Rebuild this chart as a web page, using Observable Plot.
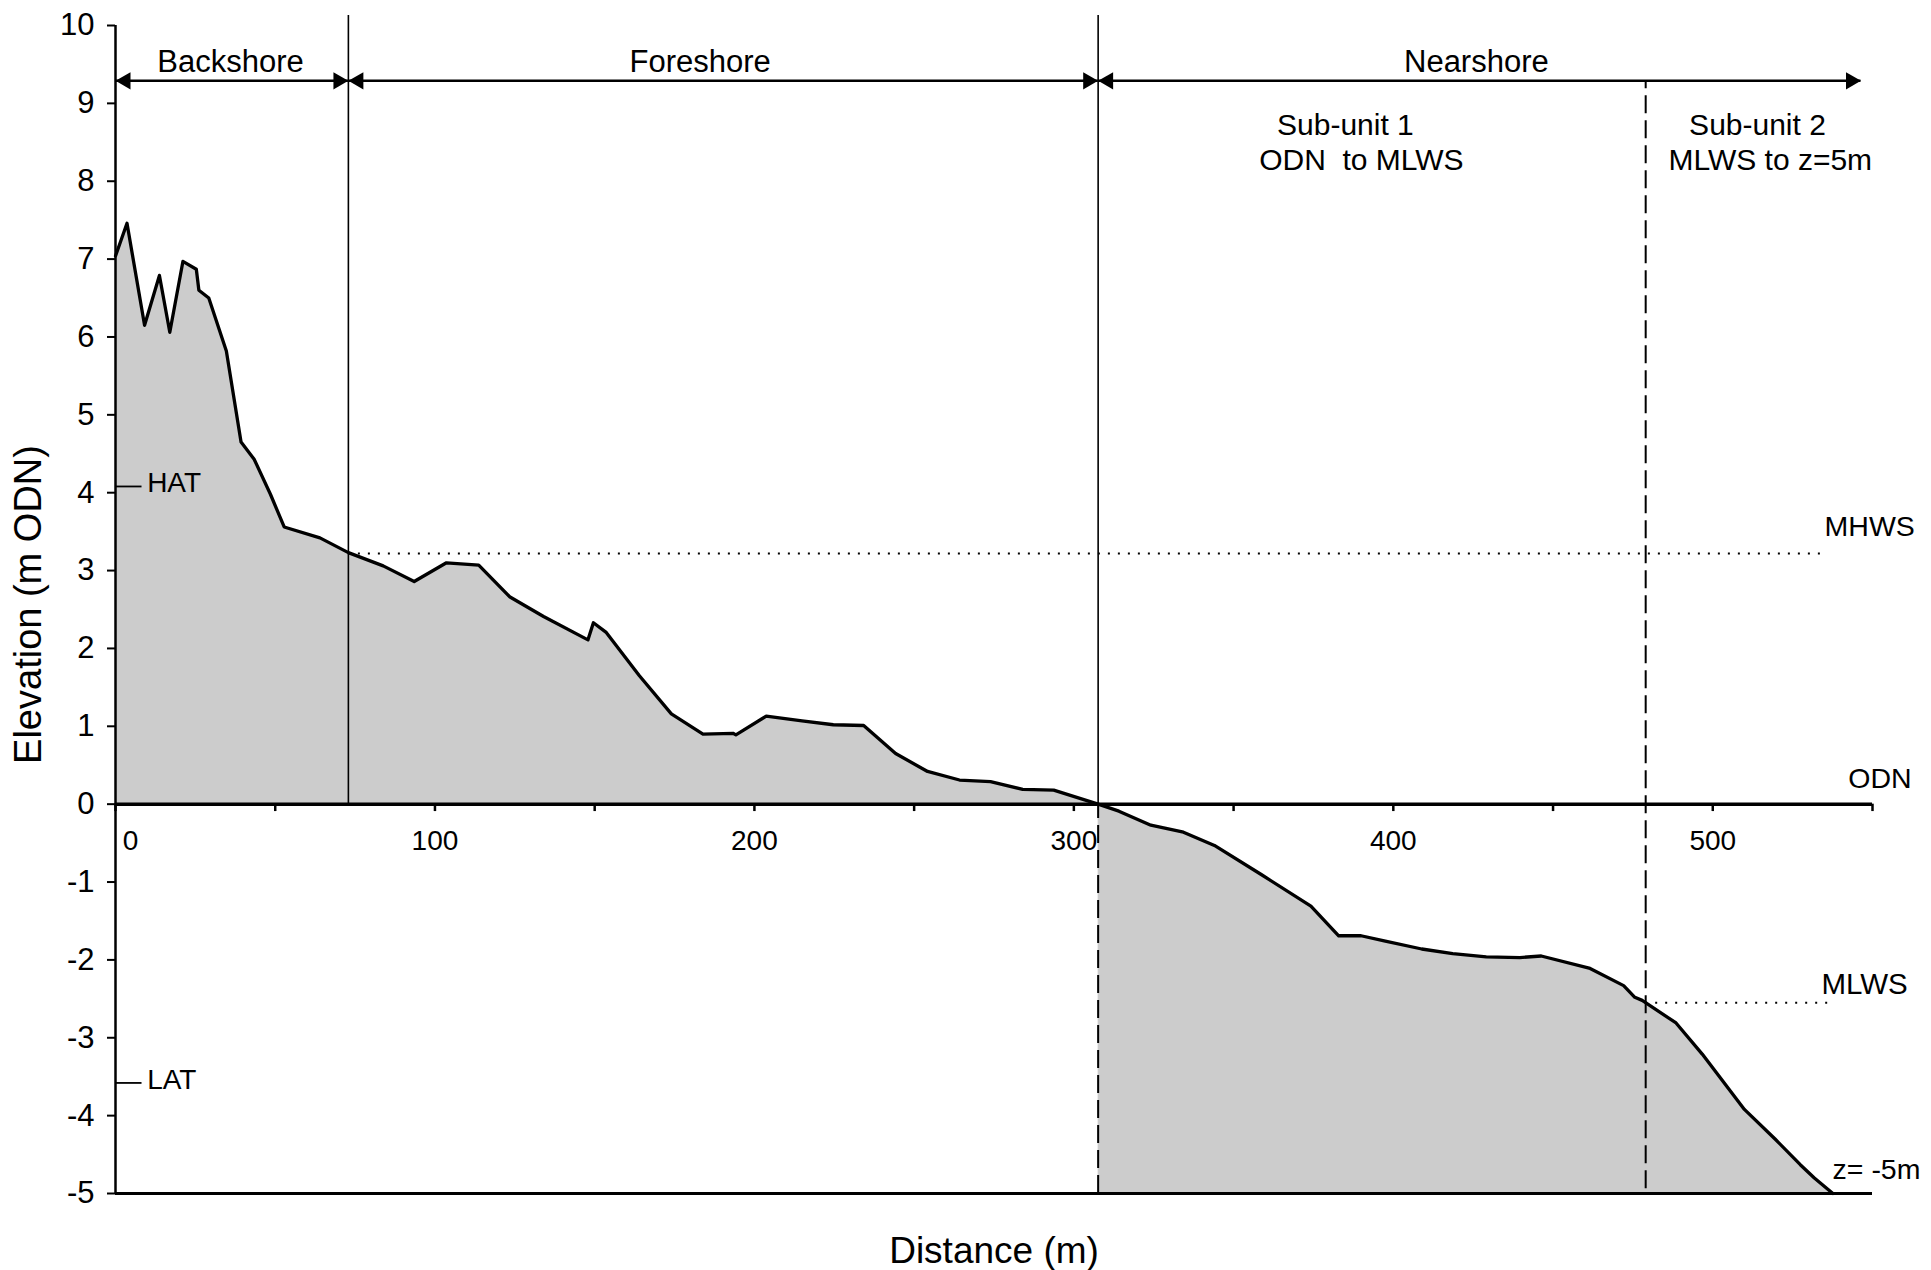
<!DOCTYPE html>
<html>
<head>
<meta charset="utf-8">
<script src="https://cdn.jsdelivr.net/npm/d3@7"></script>
<script src="https://cdn.jsdelivr.net/npm/@observablehq/plot@0.6"></script>
<style>
  body { margin: 0; background: #fff; }
  svg text { white-space: pre; }
</style>
</head>
<body>
<div id="chart"></div>
<script>
// ---- Data ----
const distance = [0, 3.6, 9.1, 13.75, 17, 21.1, 25.3, 26.1, 29.2, 34.7, 39.3, 43.4, 48.5, 52.8, 64, 72.9,
  83.8, 93.5, 103.6, 113.7, 123.5, 134, 147.9, 149.6, 153.5, 164, 174, 183.9, 193.3, 194.2, 203.7, 214.9,
  224.7, 234.2, 244.2, 254.2, 264.2, 273.9, 284, 293.7, 307.6, 314.1, 324.1, 334.3, 344, 358.9, 374.2,
  382.9, 389.9, 397.5, 408.9, 418.6, 429.1, 439.6, 446.3, 461.6, 472.1, 475.6, 477.9, 488.5, 496.7, 509.9,
  519.5, 527.4, 531.8, 537.6];
const elevation = [7.04, 7.46, 6.15, 6.79, 6.06, 6.97, 6.87, 6.60, 6.50, 5.82, 4.65, 4.43, 3.98, 3.56, 3.42, 3.23,
  3.06, 2.86, 3.10, 3.07, 2.66, 2.41, 2.11, 2.33, 2.21, 1.65, 1.16, 0.90, 0.91, 0.89, 1.13, 1.07,
  1.02, 1.01, 0.65, 0.42, 0.31, 0.29, 0.19, 0.18, 0, -0.09, -0.27, -0.36, -0.53, -0.91, -1.31,
  -1.69, -1.69, -1.76, -1.86, -1.92, -1.96, -1.97, -1.95, -2.11, -2.33, -2.48, -2.52, -2.81, -3.21, -3.92,
  -4.30, -4.63, -4.80, -5.0];

const yTicks = [-5, -4, -3, -2, -1, 0, 1, 2, 3, 4, 5, 6, 7, 8, 9, 10];
const xTicks = [0, 50, 100, 150, 200, 250, 300, 350, 400, 450, 500, 550];
const xTickLabels = [100, 200, 300, 400, 500];
const xZeroLabel = [0];

const zoneBounds = [0, 72.9, 307.6, 546.4];
const zoneNames = ["Backshore", "Foreshore", "Nearshore"];
const zoneLabelX = [36, 183, 426];
const arrowY = 9.29;
const boundaryTop = 10.13;

const subUnitBoundary = 479;
const subUnitText = ["Sub-unit 1", "ODN  to MLWS", "Sub-unit 2", "MLWS to z=5m"];
const subUnitX = [385, 390, 514, 518];
const subUnitY = [8.59, 8.15, 8.59, 8.15];

const tideNames = ["HAT", "LAT"];
const tideValues = [4.08, -3.58];
const mhws = 3.22;
const mhwsEnd = 534;
const mlws = -2.55;
const mlwsEnd = 538;

// ---- Derived tables ----
const profile = distance.map((d, i) => ({x: d, y: elevation[i]}));
const foreshoreProfile = profile.filter(d => d.x <= zoneBounds[2]);
const nearshoreProfile = profile.filter(d => d.x >= zoneBounds[2]);
const zones = zoneNames.map((name, i) => ({name, x1: zoneBounds[i], x2: zoneBounds[i + 1], cx: zoneLabelX[i]}));
const subUnits = subUnitText.map((t, i) => ({t, x: subUnitX[i], y: subUnitY[i]}));
const tides = tideNames.map((n, i) => ({n, y: tideValues[i]}));

const FONT = "Liberation Sans, Arial, Helvetica, sans-serif";

const chart = Plot.plot({
  width: 1931,
  height: 1270,
  marginLeft: 115,
  marginRight: 59,
  marginTop: 25,
  marginBottom: 77,
  style: {fontFamily: FONT, background: "white", color: "black"},
  x: {domain: [0, 550], axis: null},
  y: {domain: [-5, 10], axis: null},
  marks: [
    // filled profile
    Plot.areaY(foreshoreProfile, {x: "x", y1: 0, y2: "y", fill: "#cccccc"}),
    Plot.areaY(nearshoreProfile, {x: "x", y1: -5, y2: "y", fill: "#cccccc"}),

    // tidal levels (dotted)
    Plot.ruleY([mhws], {x1: zoneBounds[1], x2: mhwsEnd, stroke: "black", strokeWidth: 2, strokeDasharray: "2,8"}),
    Plot.ruleY([mlws], {x1: subUnitBoundary, x2: mlwsEnd, stroke: "black", strokeWidth: 2, strokeDasharray: "2,8"}),

    // zone boundaries
    Plot.ruleX([zoneBounds[1], zoneBounds[2]], {y1: 0, y2: boundaryTop, stroke: "black", strokeWidth: 1.6}),
    Plot.ruleX([zoneBounds[2]], {y1: -5, y2: 0, stroke: "black", strokeWidth: 2, strokeDasharray: "18,7"}),
    Plot.ruleX([subUnitBoundary], {y1: -4.94, y2: arrowY, stroke: "black", strokeWidth: 2, strokeDasharray: "18,7"}),

    // profile line
    Plot.line(profile, {x: "x", y: "y", stroke: "black", strokeWidth: 3.3, strokeLinejoin: "round"}),

    // axis lines
    Plot.ruleX([0], {y1: -5, y2: 10, stroke: "black", strokeWidth: 2.5}),
    Plot.ruleY([0], {x1: 0, x2: 550, stroke: "black", strokeWidth: 3.5}),
    Plot.ruleY([-5], {x1: 0, x2: 550, stroke: "black", strokeWidth: 3}),
    Plot.ruleX(xTicks, {y1: 0, y2: -0.095, stroke: "black", strokeWidth: 2.5}),

    // y axis ticks + labels
    Plot.axisY(yTicks, {tickSize: 8, tickPadding: 13, fontSize: 31, strokeWidth: 2, tickFormat: d => String(d), label: null}),

    // x tick labels (drawn along the y=0 line)
    Plot.text(xTickLabels, {x: d => d, y: 0, text: d => String(d), dy: 46, lineAnchor: "bottom", fontSize: 28, fill: "black"}),
    Plot.text(xZeroLabel, {x: d => d, y: 0, text: d => String(d), dx: 15, dy: 46, lineAnchor: "bottom", fontSize: 28, fill: "black"}),

    // axis titles
    Plot.text(["Elevation (m ODN)"], {frameAnchor: "left", text: d => d, rotate: -90, dx: -87, dy: -5, textAnchor: "middle", lineAnchor: "middle", fontSize: 38, fill: "black"}),
    Plot.text(["Distance (m)"], {frameAnchor: "bottom", text: d => d, dy: 69, textAnchor: "middle", lineAnchor: "bottom", fontSize: 37, fill: "black"}),

    // zone arrows
    Plot.ruleY(zones, {x1: "x1", x2: "x2", y: arrowY, stroke: "black", strokeWidth: 2.4}),
    Plot.dot(zones, {x: "x1", y: arrowY, symbol: "triangle", r: 6.4, fill: "black", stroke: null, rotate: -90, dx: 10}),
    Plot.dot(zones, {x: "x2", y: arrowY, symbol: "triangle", r: 6.4, fill: "black", stroke: null, rotate: 90, dx: -10}),
    Plot.text(zones, {x: "cx", y: arrowY, text: "name", dy: -9, lineAnchor: "bottom", fontSize: 31, fill: "black"}),

    // sub-units
    Plot.text(subUnits, {x: "x", y: "y", text: "t", lineAnchor: "bottom", fontSize: 30, fill: "black"}),

    // HAT / LAT markers
    Plot.ruleY(tides, {y: "y", x1: 0, x2: 8.3, stroke: "black", strokeWidth: 1.8}),
    Plot.text(tides, {x: 9.9, y: "y", text: "n", textAnchor: "start", lineAnchor: "middle", dy: -3, fontSize: 28, fill: "black"}),

    // right-side level labels
    Plot.text(["MHWS"], {x: 535, y: mhws, text: d => d, textAnchor: "start", lineAnchor: "bottom", dy: -17, fontSize: 28.5, fill: "black"}),
    Plot.text(["ODN"], {x: 542.4, y: 0, text: d => d, textAnchor: "start", lineAnchor: "bottom", dy: -16, fontSize: 28.5, fill: "black"}),
    Plot.text(["MLWS"], {x: 534, y: mlws, text: d => d, textAnchor: "start", lineAnchor: "bottom", dy: -9, fontSize: 29.5, fill: "black"}),
    Plot.text(["z= -5m"], {x: 537.5, y: -5, text: d => d, textAnchor: "start", lineAnchor: "bottom", dy: -15, fontSize: 28.5, fill: "black"})
  ]
});

document.getElementById("chart").appendChild(chart);
</script>
</body>
</html>
